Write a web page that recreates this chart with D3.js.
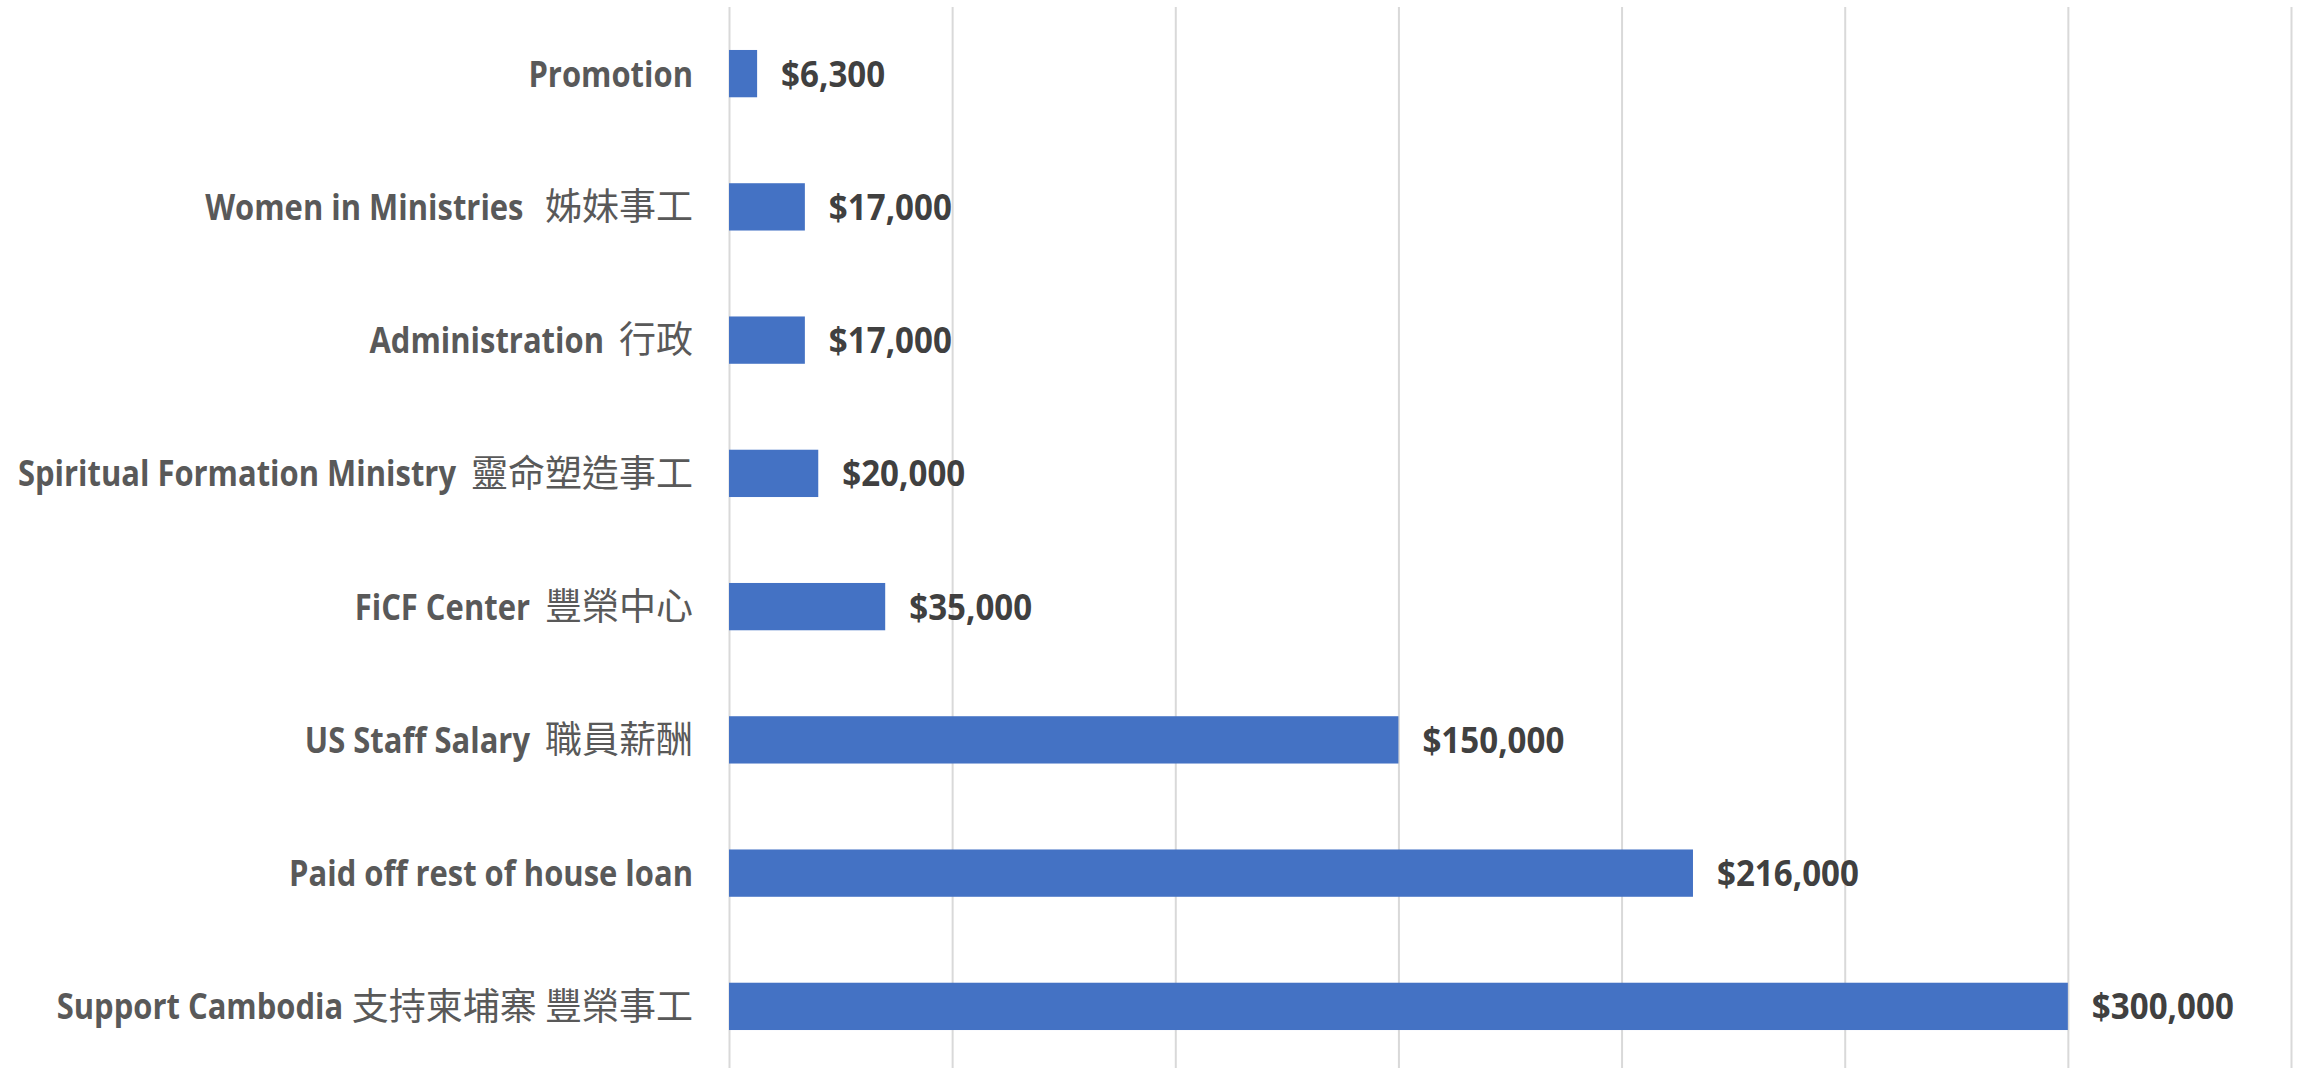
<!DOCTYPE html>
<html>
<head>
<meta charset="utf-8">
<script src="https://cdn.jsdelivr.net/npm/d3@7"></script>
<style>
  html, body { margin: 0; padding: 0; background: #fff; }
  svg { display: block; }
  text { white-space: pre; }
</style>
</head>
<body>
<div id="chart"></div>
<script>
// categories, top to bottom as displayed
const labels_en = [
  'Promotion',
  'Women in Ministries   ',
  'Administration  ',
  'Spiritual Formation Ministry  ',
  'FiCF Center  ',
  'US Staff Salary  ',
  'Paid off rest of house loan',
  'Support Cambodia '
];
const labels_zh = [
  '',
  '姊妹事工',
  '行政',
  '靈命塑造事工',
  '豐榮中心',
  '職員薪酬',
  '',
  '支持柬埔寨 豐榮事工'
];
const amounts = [6300, 17000, 17000, 20000, 35000, 150000, 216000, 300000];
const grid_ticks = [0, 50000, 100000, 150000, 200000, 250000, 300000, 350000];

const W = 2303, H = 1068;
const margin = { top: 7, right: 12, bottom: -5, left: 729 };
const width = W - margin.left - margin.right;
const height = H - margin.top - margin.bottom;

const EN_FONT = '"Open Sans", "Liberation Sans", sans-serif';
const ZH_FONT = '"Noto Sans CJK TC", "Noto Sans CJK SC", sans-serif';
// squeeze the wider substitute font towards Calibri's proportions
const LABEL_SX = 0.86;
const VALUE_SX = 0.92;

let svg = d3.select('#chart')
  .append('svg')
  .attr('width', W)
  .attr('height', H)
  .append('g')
  .attr('transform', `translate(${margin.left}, ${margin.top})`);

let x = d3.scaleLinear().domain([0, 350000]).range([0, width]);
let y = d3.scaleBand()
  .domain(d3.range(amounts.length))
  .range([0, height])
  .paddingInner(0.645)
  .paddingOuter(0.3225);

// gridlines
svg.append('g')
  .attr('transform', `translate(0, ${height})`)
  .call(d3.axisBottom(x).tickValues(grid_ticks).tickSize(-height).tickFormat(''))
  .call((g) => g.select('.domain').remove())
  .call((g) => g.selectAll('.tick line').attr('stroke', '#d9d9d9').attr('stroke-width', 2));

// bars
svg.selectAll('rect.bar')
  .data(amounts)
  .enter()
  .append('rect')
  .attr('class', 'bar')
  .attr('x', x(0))
  .attr('y', (d, i) => y(i))
  .attr('width', (d) => x(d) - x(0))
  .attr('height', y.bandwidth())
  .attr('fill', '#4472c4');

// category labels: chinese part at the right, english part left of it
let rows = svg.selectAll('g.cat')
  .data(amounts)
  .enter()
  .append('g')
  .attr('class', 'cat')
  .attr('transform', (d, i) => `translate(-36, ${y(i) + y.bandwidth() / 2})`);

rows.each(function (d, i) {
  let row = d3.select(this);
  let zh = row.append('text')
    .attr('text-anchor', 'end')
    .attr('dy', '0.36em')
    .style('font-family', ZH_FONT)
    .style('font-size', '37px')
    .attr('fill', '#595959')
    .text(labels_zh[i]);
  let zh_w = labels_zh[i] ? zh.node().getComputedTextLength() : 0;

  // gap between the two parts follows the number of spaces in the label
  let spaces = labels_en[i].length - labels_en[i].trimEnd().length;
  let gap = spaces ? spaces * 6.5 + 2 : 0;

  row.append('text')
    .attr('text-anchor', 'end')
    .attr('dy', '0.36em')
    .attr('transform', `translate(${-zh_w - gap}, 0) scale(${LABEL_SX}, 1)`)
    .style('font-family', EN_FONT)
    .style('font-weight', 'bold')
    .style('font-size', '36px')
    .attr('fill', '#595959')
    .text(labels_en[i].trimEnd());
});

// value labels
svg.selectAll('text.val')
  .data(amounts)
  .enter()
  .append('text')
  .attr('class', 'val')
  .attr('transform', (d, i) =>
    `translate(${x(d) + 24}, ${y(i) + y.bandwidth() / 2}) scale(${VALUE_SX}, 1)`)
  .attr('dy', '0.36em')
  .text((d) => '$' + d3.format(',')(d))
  .style('font-family', EN_FONT)
  .style('font-weight', 'bold')
  .style('font-size', '36px')
  .attr('fill', '#404040');
</script>
</body>
</html>
